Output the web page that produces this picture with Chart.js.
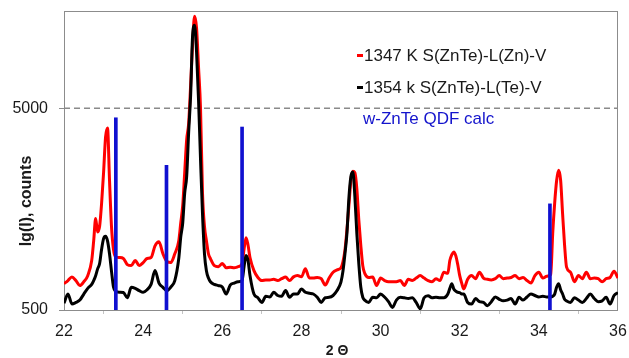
<!DOCTYPE html>
<html>
<head>
<meta charset="utf-8">
<script src="https://cdn.jsdelivr.net/npm/chart.js@4/dist/chart.umd.min.js"></script>
<style>
  html, body { margin: 0; padding: 0; background: #fff; }
  #xrd { display: block; }
</style>
</head>
<body>
<canvas id="xrd" width="629" height="358"></canvas>
<script>
// 2-theta positions (denser around the peaks)
const twoTheta = [
  22.0, 22.1, 22.2, 22.3, 22.4, 22.5, 22.6, 22.7,
  22.75, 22.8, 22.85, 22.9, 22.95, 23.0, 23.05, 23.1, 23.15, 23.2, 23.25,
  23.3, 23.4, 23.5, 23.6, 23.7, 23.8, 23.9, 24.0, 24.1, 24.2, 24.3, 24.4, 24.5, 24.6, 24.7, 24.8, 24.9,
  24.95, 25.0, 25.05, 25.1, 25.15, 25.2, 25.25, 25.3, 25.35, 25.4, 25.45, 25.5, 25.55, 25.6, 25.65, 25.7,
  25.8, 25.9, 26.0, 26.1, 26.2, 26.3, 26.4, 26.5,
  26.55, 26.6, 26.65,
  26.7, 26.8, 26.9, 27.0, 27.1, 27.2, 27.3, 27.4, 27.5, 27.6, 27.7, 27.8, 27.9, 28.0, 28.1, 28.2, 28.3, 28.4, 28.5, 28.6, 28.7, 28.8, 28.9, 29.0,
  29.05, 29.1, 29.15, 29.2, 29.25, 29.3, 29.35, 29.4, 29.45, 29.5, 29.55,
  29.6, 29.7, 29.8, 29.9, 30.0, 30.1, 30.2, 30.3, 30.4, 30.5, 30.6, 30.7, 30.8, 30.9, 31.0, 31.1, 31.2, 31.3, 31.4, 31.5, 31.6, 31.7,
  31.75, 31.8, 31.85, 31.9, 31.95, 32.0, 32.05,
  32.1, 32.2, 32.3, 32.4, 32.5, 32.6, 32.7, 32.8, 32.9, 33.0, 33.1, 33.2, 33.3, 33.4, 33.5, 33.6, 33.7, 33.8, 33.9, 34.0, 34.1, 34.2, 34.3,
  34.35, 34.4, 34.45, 34.5, 34.55, 34.6, 34.65,
  34.7, 34.8, 34.9, 35.0, 35.1, 35.2, 35.3, 35.4, 35.5, 35.6, 35.7, 35.8, 35.9, 36.0
];

// 1347 K S(ZnTe)-L(Zn)-V, counts
const red1347 = [
  675, 700, 728, 700, 661, 690, 740, 880,
  1100, 1420, 1220, 1300, 1690, 2400, 3600, 4000, 2200, 1300, 1000,
  920, 910, 900, 840, 830, 880, 830, 860, 900, 910, 1040, 1090, 950, 870, 860, 950, 1100,
  1350, 1650, 2400, 3500, 4200, 6500, 10500, 14300, 12500, 8000, 5000, 1900, 1300, 1100, 950, 900,
  830, 820, 850, 810, 815, 810, 820, 850,
  1000, 1140, 1050,
  910, 784, 725, 700, 705, 705, 710, 700, 715, 728, 700, 730, 741, 730, 800, 720, 720, 725, 715, 665, 720, 770, 790, 810,
  870, 990, 1250, 1650, 2200, 2440, 2400, 2000, 1400, 1050, 830,
  760, 725, 728, 661, 720, 700, 690, 690, 690, 700, 661, 710, 700, 720, 741, 720, 700, 690, 715, 700, 770, 760,
  880, 940, 970, 930, 840, 740, 680,
  636, 710, 741, 715, 770, 720, 710, 705, 715, 741, 715, 720, 725, 741, 715, 725, 700, 680, 741, 770, 720, 735, 750,
  1200, 1700, 2200, 2466, 2200, 1500, 1050,
  815, 770, 690, 741, 715, 770, 715, 720, 715, 690, 715, 725, 778, 720
];

// 1354 k S(ZnTe)-L(Te)-V, counts
const black1354 = [
  540, 600, 536, 545, 560, 600, 640, 670,
  700, 740, 800, 850, 1000, 1130, 1160, 1100, 950, 780, 650,
  620, 612, 610, 575, 648, 640, 624, 612, 630, 670, 784, 680, 648, 624, 650, 700, 900,
  1150, 1350, 1900, 2300, 3800, 5800, 11500, 12900, 9500, 5500, 2800, 1500, 950, 780, 720, 690,
  670, 661, 650, 600, 665, 680, 690, 700,
  820, 931, 880,
  741, 600, 575, 545, 585, 580, 612, 590, 585, 624, 578, 600, 600, 636, 612, 605, 600, 578, 545, 575, 578, 590, 624, 690,
  780, 950, 1200, 1800, 2300, 2420, 1830, 1200, 850, 650, 578,
  560, 545, 578, 575, 600, 580, 550, 515, 560, 578, 575, 570, 575, 545, 507, 575, 589, 575, 578, 575, 575, 600,
  640, 675, 636, 620, 612, 610, 600,
  600, 545, 535, 570, 550, 545, 525, 550, 580, 565, 555, 560, 570, 535, 578, 560, 580, 600, 590, 580, 585, 580, 580,
  585, 600, 650, 675, 630, 600, 565,
  555, 545, 575, 560, 545, 570, 600, 570, 550, 555, 578, 535, 590, 610
];

// w-ZnTe QDF calculated reflections
const qdfPos = [23.31, 24.59, 26.5, 34.28];
const qdfInt = [4490, 2610, 4040, 1680];

const refLevel = 5000;
const yTicks = [500, 5000];
const xRange = [22, 36];
const yRange = [500, 15200];

const FONT = "'Liberation Sans', Arial, Helvetica, sans-serif";

const toPoints = (ys) => twoTheta.map((x, i) => ({ x, y: ys[i] }));

// frame, axis titles and the in-plot legend
const decorPlugin = {
  id: 'decor',
  beforeDatasetsDraw(chart) {
    const { ctx, chartArea: a } = chart;
    ctx.save();
    ctx.strokeStyle = '#8c8c8c';
    ctx.lineWidth = 1;
    ctx.strokeRect(a.left + 0.5, a.top + 0.5, a.right - a.left - 1, a.bottom - a.top);
    ctx.restore();
  },
  afterDraw(chart) {
    const { ctx } = chart;
    ctx.save();
    ctx.fillStyle = '#1a1a1a';
    ctx.textBaseline = 'middle';

    // y title
    ctx.save();
    ctx.translate(27, 201);
    ctx.rotate(-Math.PI / 2);
    ctx.textAlign = 'center';
    ctx.font = `bold 16px ${FONT}`;
    ctx.fillText('lg(I), counts', 0, 0);
    ctx.restore();

    // x title
    ctx.textAlign = 'center';
    ctx.font = `bold 14px ${FONT}`;
    ctx.fillText('2 \u0398', 337, 351);

    // legend
    ctx.textAlign = 'left';
    ctx.font = `17px ${FONT}`;
    ctx.fillStyle = '#ff0000';
    ctx.fillRect(357, 54, 6, 3);
    ctx.fillStyle = '#1a1a1a';
    ctx.fillText('1347 K S(ZnTe)-L(Zn)-V', 364, 56);
    ctx.fillStyle = '#000';
    ctx.fillRect(357, 86, 6, 3);
    ctx.fillStyle = '#1a1a1a';
    ctx.fillText('1354 k S(ZnTe)-L(Te)-V', 364, 88);
    ctx.fillStyle = '#1414cc';
    ctx.fillText('w-ZnTe QDF calc', 363, 119);
    ctx.restore();
  }
};

new Chart(document.getElementById('xrd'), {
  type: 'line',
  data: {
    datasets: [
      {
        label: 'w-ZnTe QDF calc',
        type: 'bar',
        data: qdfPos.map((x, i) => ({ x, y: qdfInt[i] })),
        backgroundColor: '#1010d0',
        barThickness: 3,
        grouped: false,
        order: 0,
      },
      {
        label: '1354 k S(ZnTe)-L(Te)-V',
        data: toPoints(black1354),
        borderColor: '#000',
        borderWidth: 3,
        pointRadius: 0,
        cubicInterpolationMode: 'monotone',
        order: 1,
      },
      {
        label: '1347 K S(ZnTe)-L(Zn)-V',
        data: toPoints(red1347),
        borderColor: '#ff0000',
        borderWidth: 3,
        pointRadius: 0,
        cubicInterpolationMode: 'monotone',
        order: 2,
      },
      {
        label: 'ref',
        data: [{ x: xRange[0], y: refLevel }, { x: xRange[1], y: refLevel }],
        borderColor: '#8a8a8a',
        borderWidth: 1.5,
        borderDash: [6, 4],
        pointRadius: 0,
        order: 3,
      },
    ],
  },
  options: {
    responsive: false,
    animation: false,
    layout: { padding: { top: 11, right: 11, left: 0, bottom: 0 } },
    plugins: {
      legend: { display: false },
      tooltip: { enabled: false },
    },
    scales: {
      x: {
        type: 'linear',
        min: xRange[0],
        max: xRange[1],
        offset: false,
        afterFit: (s) => {
          s.height = 48;
          s.paddingLeft = 0;
          s.paddingRight = 0;
        },
        border: { display: false },
        grid: { drawOnChartArea: false, drawTicks: true, tickLength: 4, color: '#c4c4c4' },
        ticks: {
          stepSize: 2,
          padding: 8,
          color: '#1a1a1a',
          font: { family: FONT, size: 16 },
        },
      },
      y: {
        type: 'logarithmic',
        min: yRange[0],
        max: yRange[1],
        afterFit: (s) => {
          s.width = 64;
          s.paddingTop = 0;
          s.paddingBottom = 0;
        },
        afterBuildTicks: (s) => { s.ticks = yTicks.map((v) => ({ value: v })); },
        border: { display: false },
        grid: { drawOnChartArea: false, drawTicks: true, tickLength: 5, color: '#8c8c8c' },
        ticks: {
          padding: 11,
          color: '#1a1a1a',
          font: { family: FONT, size: 16 },
          callback: (v) => String(v),
        },
      },
    },
  },
  plugins: [decorPlugin],
});
</script>
</body>
</html>
